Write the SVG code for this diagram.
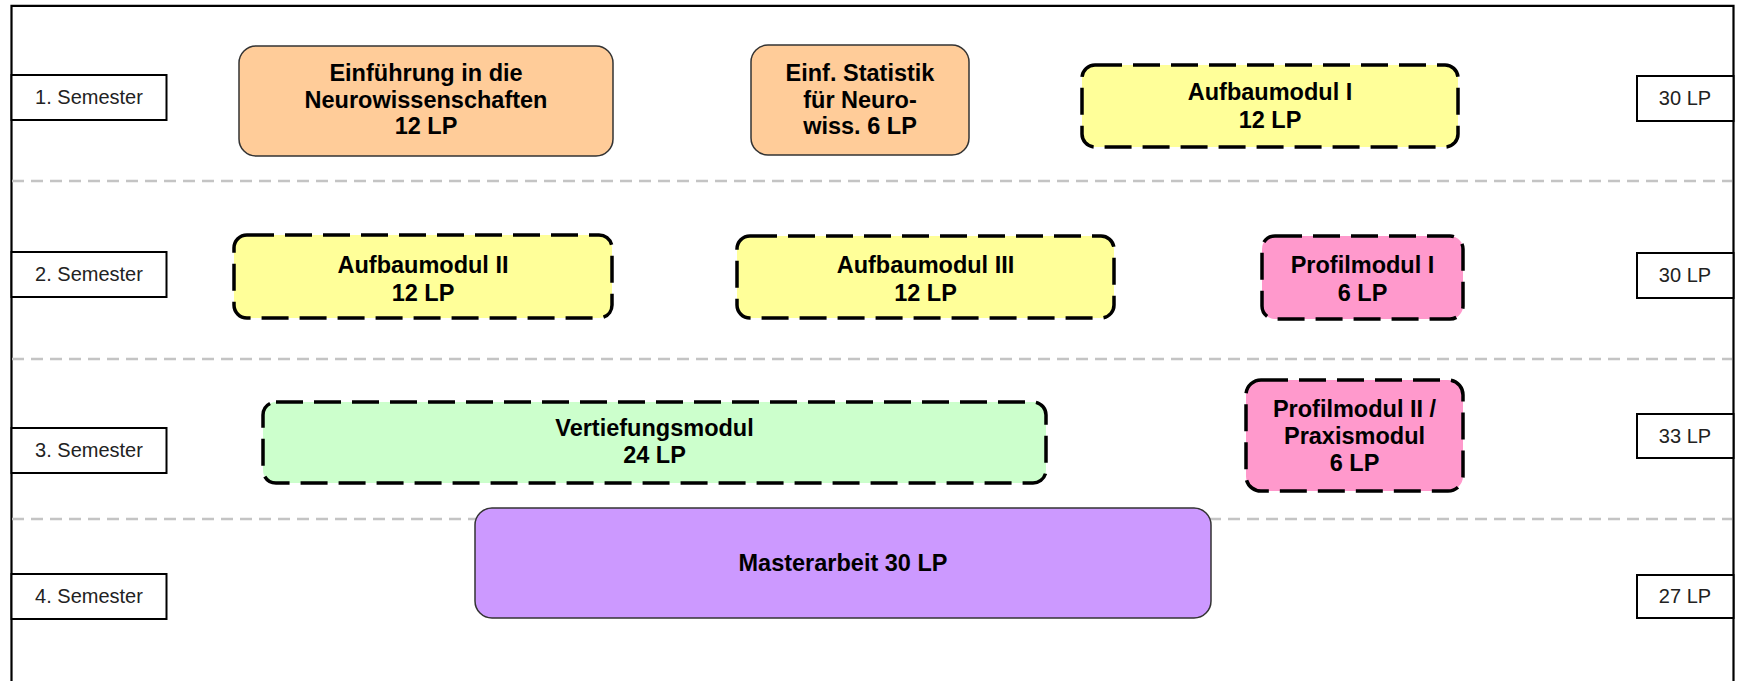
<svg xmlns="http://www.w3.org/2000/svg" width="1737" height="681" viewBox="0 0 1737 681">
<style>
.sep{stroke:#c4c4c4;stroke-width:2.5;stroke-dasharray:12 7;fill:none}
.lbl{fill:#fff;stroke:#000;stroke-width:2}
.lt{font-family:"Liberation Sans",Arial,sans-serif;font-size:20px;fill:#222;text-anchor:middle}
.solid{stroke:#333;stroke-width:1.5}
.dash{stroke:#000;stroke-width:3.5;stroke-dasharray:27 11}
.bt{font-family:"Liberation Sans",Arial,sans-serif;font-size:23.5px;font-weight:bold;fill:#000;text-anchor:middle}
.or{fill:#FFCC99}.ye{fill:#FFFF99}.pk{fill:#FF99CC}.gr{fill:#CCFFCC}.pu{fill:#CC99FF}
</style>
<rect width="1737" height="681" fill="#fff"/>
<g id="frame">
<path d="M11.5 690 V5.8 H1733.5 V690" fill="none" stroke="#000" stroke-width="2.2"/>
</g>
<g id="connectors">
<line class="sep" x1="12" y1="181" x2="1732" y2="181"/>
<line class="sep" x1="12" y1="359" x2="1732" y2="359"/>
<line class="sep" x1="12" y1="519" x2="1732" y2="519"/>
</g>
<g id="sem1"><rect class="lbl" x="11.5" y="75" width="155" height="45"/><text class="lt" x="89" y="104">1. Semester</text></g>
<g id="sem2"><rect class="lbl" x="11.5" y="252" width="155" height="45"/><text class="lt" x="89" y="281">2. Semester</text></g>
<g id="sem3"><rect class="lbl" x="11.5" y="428" width="155" height="45"/><text class="lt" x="89" y="457">3. Semester</text></g>
<g id="sem4"><rect class="lbl" x="11.5" y="574" width="155" height="45"/><text class="lt" x="89" y="603">4. Semester</text></g>
<g id="lp1"><rect class="lbl" x="1637" y="76" width="96.5" height="45"/><text class="lt" x="1685" y="105">30 LP</text></g>
<g id="lp2"><rect class="lbl" x="1637" y="253" width="96.5" height="45"/><text class="lt" x="1685" y="282">30 LP</text></g>
<g id="lp3"><rect class="lbl" x="1637" y="414" width="96.5" height="44"/><text class="lt" x="1685" y="443">33 LP</text></g>
<g id="lp4"><rect class="lbl" x="1637" y="575" width="96.5" height="43"/><text class="lt" x="1685" y="603">27 LP</text></g>
<g id="einf">
<rect class="or solid" x="239" y="46" width="374" height="110" rx="17"/>
<text class="bt" x="426" y="81">Einführung in die</text>
<text class="bt" x="426" y="108">Neurowissenschaften</text>
<text class="bt" x="426" y="134">12 LP</text>
</g>
<g id="stat">
<rect class="or solid" x="751" y="45" width="218" height="110" rx="17"/>
<text class="bt" x="860" y="81">Einf. Statistik</text>
<text class="bt" x="860" y="108">für Neuro-</text>
<text class="bt" x="860" y="134">wiss. 6 LP</text>
</g>
<g id="auf1">
<rect class="ye dash" x="1082" y="65" width="376" height="82" rx="13"/>
<text class="bt" x="1270" y="100">Aufbaumodul I</text>
<text class="bt" x="1270" y="128">12 LP</text>
</g>
<g id="auf2">
<rect class="ye dash" x="234" y="235" width="378" height="83" rx="13"/>
<text class="bt" x="423" y="273">Aufbaumodul II</text>
<text class="bt" x="423" y="301">12 LP</text>
</g>
<g id="auf3">
<rect class="ye dash" x="737" y="236" width="377" height="82" rx="13"/>
<text class="bt" x="925.5" y="273">Aufbaumodul III</text>
<text class="bt" x="925.5" y="301">12 LP</text>
</g>
<g id="prof1">
<rect class="pk dash" x="1262" y="236" width="201" height="83" rx="13"/>
<text class="bt" x="1362.5" y="273">Profilmodul I</text>
<text class="bt" x="1362.5" y="301">6 LP</text>
</g>
<g id="vert">
<rect class="gr dash" x="263" y="402" width="783" height="81" rx="13"/>
<text class="bt" x="654.5" y="436">Vertiefungsmodul</text>
<text class="bt" x="654.5" y="463">24 LP</text>
</g>
<g id="prof2">
<rect class="pk dash" x="1246" y="380" width="217" height="111" rx="15"/>
<text class="bt" x="1354.5" y="417">Profilmodul II /</text>
<text class="bt" x="1354.5" y="444">Praxismodul</text>
<text class="bt" x="1354.5" y="471">6 LP</text>
</g>
<g id="master">
<rect class="pu solid" x="475" y="508" width="736" height="110" rx="17"/>
<text class="bt" x="843" y="571">Masterarbeit  30 LP</text>
</g>
</svg>
